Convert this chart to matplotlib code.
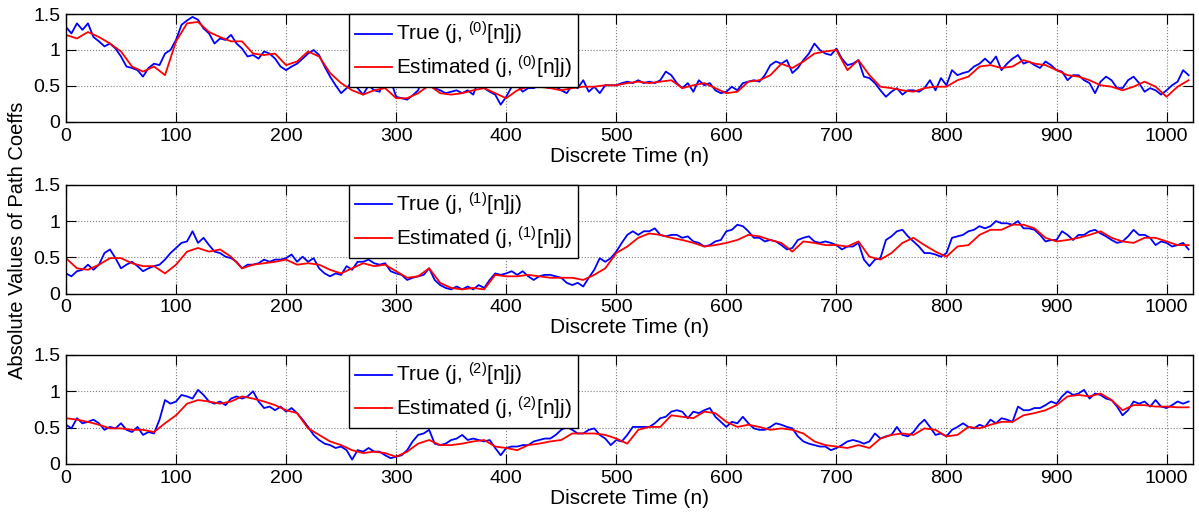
import numpy as np
import matplotlib
matplotlib.use('Agg')
from matplotlib import pyplot as plt

plt.rcParams['font.family'] = ['Liberation Sans', 'DejaVu Sans']
plt.rcParams['mathtext.default'] = 'regular'

# sample positions (true path every 5 samples, estimate every 10)
n_true = np.arange(0, 1021, 5)
n_est = np.arange(0, 1021, 10)

true0 = [1.32, 1.23, 1.37, 1.28, 1.37, 1.18, 1.12, 1.05, 1.09, 1.02,
         0.91, 0.77, 0.75, 0.72, 0.63, 0.75, 0.81, 0.79, 0.95, 1.00,
         1.14, 1.35, 1.41, 1.46, 1.42, 1.30, 1.23, 1.09, 1.16, 1.14,
         1.21, 1.09, 1.02, 0.91, 0.93, 0.88, 0.98, 0.95, 0.88, 0.77,
         0.72, 0.77, 0.81, 0.88, 0.95, 1.00, 0.93, 0.77, 0.63, 0.51,
         0.40, 0.47, 0.56, 0.47, 0.38, 0.51, 0.44, 0.42, 0.63, 0.58,
         0.35, 0.33, 0.31, 0.37, 0.44, 0.65, 0.54, 0.47, 0.44, 0.40,
         0.42, 0.44, 0.40, 0.44, 0.38, 0.58, 0.47, 0.42, 0.38, 0.24,
         0.35, 0.49, 0.51, 0.42, 0.47, 0.47, 0.51, 0.49, 0.47, 0.49,
         0.44, 0.40, 0.51, 0.47, 0.58, 0.42, 0.49, 0.40, 0.51, 0.51,
         0.51, 0.54, 0.56, 0.54, 0.58, 0.54, 0.56, 0.54, 0.58, 0.70,
         0.65, 0.54, 0.47, 0.54, 0.42, 0.58, 0.51, 0.54, 0.44, 0.40,
         0.42, 0.49, 0.44, 0.54, 0.56, 0.58, 0.56, 0.65, 0.79, 0.84,
         0.81, 0.86, 0.68, 0.75, 0.86, 0.95, 1.09, 1.00, 0.95, 0.93,
         1.02, 0.88, 0.79, 0.81, 0.86, 0.63, 0.61, 0.54, 0.44, 0.35,
         0.42, 0.47, 0.38, 0.44, 0.44, 0.42, 0.47, 0.58, 0.44, 0.61,
         0.51, 0.72, 0.65, 0.68, 0.70, 0.77, 0.81, 0.88, 0.81, 0.91,
         0.72, 0.81, 0.88, 0.93, 0.81, 0.84, 0.79, 0.75, 0.84, 0.79,
         0.72, 0.70, 0.58, 0.65, 0.65, 0.58, 0.54, 0.40, 0.56, 0.63,
         0.58, 0.47, 0.47, 0.58, 0.63, 0.54, 0.42, 0.47, 0.44, 0.38,
         0.44, 0.51, 0.56, 0.72, 0.65]
est0 = [1.21, 1.16, 1.25, 1.18, 1.09, 0.98, 0.77, 0.70, 0.77, 0.65,
        1.12, 1.37, 1.39, 1.25, 1.18, 1.12, 1.12, 0.95, 0.93, 0.95,
        0.79, 0.84, 0.98, 0.91, 0.68, 0.54, 0.44, 0.38, 0.44, 0.47,
        0.33, 0.33, 0.40, 0.51, 0.40, 0.38, 0.40, 0.44, 0.47, 0.40,
        0.33, 0.44, 0.49, 0.49, 0.47, 0.44, 0.47, 0.49, 0.49, 0.51,
        0.51, 0.54, 0.56, 0.54, 0.56, 0.58, 0.47, 0.51, 0.54, 0.47,
        0.40, 0.42, 0.56, 0.58, 0.65, 0.81, 0.75, 0.84, 0.95, 0.98,
        1.00, 0.72, 0.86, 0.65, 0.49, 0.47, 0.44, 0.42, 0.47, 0.49,
        0.49, 0.58, 0.63, 0.77, 0.79, 0.75, 0.77, 0.86, 0.81, 0.79,
        0.72, 0.65, 0.63, 0.58, 0.51, 0.49, 0.44, 0.49, 0.56, 0.49,
        0.35, 0.49, 0.58]

true1 = [0.28, 0.24, 0.31, 0.33, 0.40, 0.33, 0.40, 0.56, 0.61, 0.49,
         0.35, 0.40, 0.44, 0.38, 0.31, 0.35, 0.38, 0.40, 0.47, 0.56,
         0.63, 0.70, 0.72, 0.86, 0.70, 0.77, 0.67, 0.58, 0.56, 0.51,
         0.49, 0.44, 0.35, 0.40, 0.40, 0.42, 0.47, 0.44, 0.47, 0.47,
         0.49, 0.54, 0.44, 0.51, 0.44, 0.49, 0.35, 0.28, 0.24, 0.28,
         0.26, 0.38, 0.33, 0.44, 0.44, 0.47, 0.42, 0.40, 0.42, 0.31,
         0.28, 0.26, 0.19, 0.22, 0.24, 0.26, 0.35, 0.19, 0.12, 0.08,
         0.06, 0.10, 0.06, 0.10, 0.06, 0.12, 0.08, 0.19, 0.28, 0.26,
         0.28, 0.31, 0.26, 0.31, 0.24, 0.19, 0.24, 0.26, 0.26, 0.24,
         0.22, 0.15, 0.12, 0.15, 0.10, 0.22, 0.33, 0.49, 0.44, 0.49,
         0.58, 0.70, 0.81, 0.86, 0.81, 0.86, 0.86, 0.90, 0.81, 0.79,
         0.81, 0.81, 0.77, 0.79, 0.72, 0.70, 0.65, 0.67, 0.72, 0.74,
         0.86, 0.88, 0.95, 0.93, 0.86, 0.77, 0.77, 0.72, 0.74, 0.72,
         0.67, 0.61, 0.63, 0.74, 0.77, 0.79, 0.72, 0.70, 0.72, 0.70,
         0.67, 0.61, 0.65, 0.65, 0.70, 0.47, 0.38, 0.47, 0.49, 0.74,
         0.79, 0.86, 0.88, 0.79, 0.72, 0.65, 0.56, 0.56, 0.54, 0.51,
         0.56, 0.77, 0.79, 0.81, 0.86, 0.88, 0.93, 0.90, 0.93, 1.00,
         0.97, 0.97, 0.95, 1.00, 0.90, 0.90, 0.88, 0.81, 0.72, 0.74,
         0.74, 0.86, 0.81, 0.74, 0.81, 0.81, 0.86, 0.88, 0.83, 0.79,
         0.74, 0.70, 0.72, 0.79, 0.88, 0.81, 0.81, 0.77, 0.67, 0.72,
         0.70, 0.65, 0.67, 0.70, 0.61]
est1 = [0.49, 0.35, 0.33, 0.40, 0.49, 0.49, 0.42, 0.38, 0.38, 0.28,
        0.40, 0.58, 0.63, 0.58, 0.61, 0.51, 0.35, 0.40, 0.42, 0.44,
        0.47, 0.40, 0.42, 0.40, 0.33, 0.28, 0.35, 0.42, 0.38, 0.40,
        0.31, 0.22, 0.24, 0.35, 0.15, 0.08, 0.06, 0.08, 0.06, 0.26,
        0.24, 0.24, 0.26, 0.24, 0.22, 0.22, 0.22, 0.19, 0.26, 0.35,
        0.56, 0.65, 0.77, 0.83, 0.81, 0.77, 0.74, 0.70, 0.65, 0.67,
        0.70, 0.74, 0.81, 0.79, 0.74, 0.70, 0.58, 0.72, 0.70, 0.67,
        0.67, 0.65, 0.72, 0.51, 0.47, 0.56, 0.70, 0.77, 0.67, 0.58,
        0.51, 0.65, 0.67, 0.81, 0.88, 0.88, 0.95, 0.95, 0.90, 0.77,
        0.72, 0.74, 0.77, 0.81, 0.86, 0.77, 0.72, 0.70, 0.77, 0.77,
        0.72, 0.67, 0.67]

true2 = [0.54, 0.49, 0.63, 0.56, 0.58, 0.61, 0.56, 0.47, 0.51, 0.49,
         0.56, 0.47, 0.44, 0.51, 0.40, 0.44, 0.42, 0.61, 0.88, 0.83,
         0.86, 0.95, 0.93, 0.90, 1.02, 0.95, 0.86, 0.83, 0.86, 0.81,
         0.90, 0.93, 0.90, 0.93, 1.00, 0.86, 0.77, 0.79, 0.74, 0.79,
         0.72, 0.77, 0.70, 0.61, 0.51, 0.40, 0.33, 0.28, 0.26, 0.22,
         0.24, 0.19, 0.06, 0.19, 0.17, 0.22, 0.17, 0.17, 0.12, 0.08,
         0.10, 0.12, 0.19, 0.31, 0.40, 0.42, 0.47, 0.28, 0.26, 0.28,
         0.33, 0.35, 0.40, 0.33, 0.35, 0.33, 0.31, 0.33, 0.22, 0.12,
         0.22, 0.24, 0.24, 0.26, 0.26, 0.31, 0.33, 0.35, 0.35, 0.40,
         0.47, 0.51, 0.47, 0.42, 0.42, 0.47, 0.49, 0.40, 0.35, 0.26,
         0.33, 0.31, 0.40, 0.51, 0.51, 0.51, 0.51, 0.56, 0.63, 0.65,
         0.72, 0.74, 0.72, 0.63, 0.72, 0.70, 0.74, 0.77, 0.65, 0.58,
         0.51, 0.58, 0.56, 0.65, 0.56, 0.49, 0.47, 0.47, 0.51, 0.56,
         0.54, 0.51, 0.49, 0.38, 0.31, 0.28, 0.26, 0.24, 0.24, 0.19,
         0.22, 0.26, 0.31, 0.33, 0.31, 0.28, 0.31, 0.42, 0.35, 0.38,
         0.40, 0.51, 0.40, 0.38, 0.44, 0.54, 0.61, 0.51, 0.40, 0.42,
         0.38, 0.47, 0.51, 0.56, 0.51, 0.49, 0.54, 0.51, 0.61, 0.56,
         0.63, 0.61, 0.58, 0.79, 0.74, 0.74, 0.77, 0.77, 0.81, 0.86,
         0.83, 0.93, 1.00, 0.95, 0.97, 1.02, 0.90, 0.97, 0.95, 0.90,
         0.88, 0.79, 0.67, 0.74, 0.86, 0.83, 0.86, 0.79, 0.88, 0.79,
         0.77, 0.81, 0.86, 0.83, 0.86]
est2 = [0.63, 0.61, 0.58, 0.54, 0.49, 0.49, 0.47, 0.47, 0.44, 0.56,
        0.67, 0.83, 0.88, 0.86, 0.83, 0.86, 0.93, 0.90, 0.86, 0.81,
        0.74, 0.70, 0.49, 0.40, 0.31, 0.26, 0.19, 0.15, 0.17, 0.15,
        0.10, 0.17, 0.28, 0.33, 0.26, 0.26, 0.28, 0.31, 0.33, 0.24,
        0.22, 0.19, 0.26, 0.28, 0.31, 0.33, 0.42, 0.42, 0.42, 0.40,
        0.35, 0.28, 0.47, 0.51, 0.51, 0.67, 0.65, 0.63, 0.72, 0.70,
        0.58, 0.51, 0.54, 0.51, 0.47, 0.49, 0.47, 0.42, 0.31, 0.26,
        0.24, 0.22, 0.26, 0.22, 0.35, 0.40, 0.42, 0.40, 0.49, 0.47,
        0.38, 0.40, 0.51, 0.49, 0.54, 0.58, 0.58, 0.67, 0.70, 0.74,
        0.81, 0.93, 0.95, 0.93, 0.97, 0.88, 0.74, 0.81, 0.81, 0.79,
        0.79, 0.78, 0.78]

path_ids = ['0', '1', '2']
trues = [true0, true1, true2]
ests = [est0, est1, est2]
yticks = [0, 0.5, 1, 1.5]
ytick_labels = ['0', '0.5', '1', '1.5']
xticks = np.arange(0, 1001, 100)

fig = plt.figure(figsize=(11.99, 5.19), dpi=100)
# axes boxes in figure fractions (left, bottom, width, height)
boxes = [[0.055, 0.765, 0.940, 0.208],
         [0.055, 0.434, 0.940, 0.210],
         [0.055, 0.106, 0.940, 0.210]]

for i in range(3):
    ax = fig.add_axes(boxes[i])
    ax.plot(n_true, trues[i], color='#0000ff', lw=1.3,
            label='True (j, $^{(' + path_ids[i] + ')}$[n]j)')
    ax.plot(n_est, ests[i], color='#ff0000', lw=1.3,
            label='Estimated (j, $^{(' + path_ids[i] + ')}$[n]j)')
    ax.set_xlim(0, 1024)
    ax.set_ylim(0, 1.5)
    ax.set_xticks(xticks)
    ax.set_yticks(yticks)
    ax.set_yticklabels(ytick_labels)
    ax.tick_params(direction='in', length=7, width=0.8, top=True, right=True,
                   labelsize=14, pad=4)
    ax.grid(True, color='#7f7f7f', linestyle=':', linewidth=0.8)
    for s in ax.spines.values():
        s.set_linewidth(1.0)
    ax.set_xlabel('Discrete Time (n)', fontsize=15, labelpad=1.5)
    leg = ax.legend(loc='upper left', bbox_to_anchor=(0.251, 1.0),
                    borderaxespad=0, fontsize=15, fancybox=False,
                    framealpha=1, edgecolor='black', handlelength=1.75,
                    handletextpad=0.2, labelspacing=0.3, borderpad=0.3)
    leg.get_frame().set_linewidth(1.0)

fig.text(0.015, 0.537, 'Absolute Values of Path Coeffs', rotation=90,
         va='center', ha='center', fontsize=14.5)

plt.savefig('out.png', dpi=100)
